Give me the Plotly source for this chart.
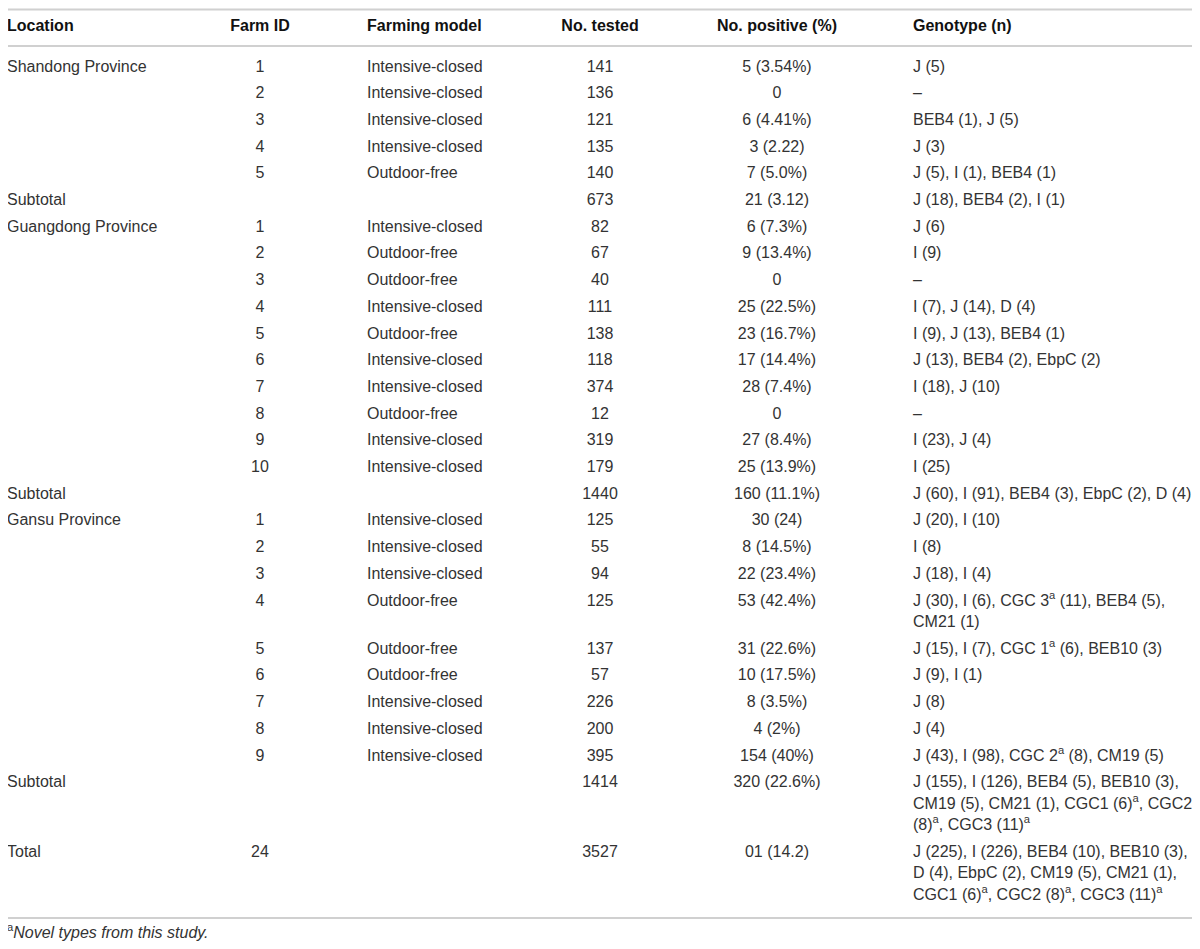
import plotly.graph_objects as go

# ---------------- data ----------------
headers = ["Location", "Farm ID", "Farming model", "No. tested", "No. positive (%)", "Genotype (n)"]

location = ["Shandong Province", "", "", "", "", "Subtotal",
            "Guangdong Province", "", "", "", "", "", "", "", "", "", "Subtotal",
            "Gansu Province", "", "", "", "", "", "", "", "", "Subtotal",
            "Total"]
farm_id = ["1", "2", "3", "4", "5", "",
           "1", "2", "3", "4", "5", "6", "7", "8", "9", "10", "",
           "1", "2", "3", "4", "5", "6", "7", "8", "9", "",
           "24"]
farming_model = ["Intensive-closed", "Intensive-closed", "Intensive-closed", "Intensive-closed", "Outdoor-free", "",
                 "Intensive-closed", "Outdoor-free", "Outdoor-free", "Intensive-closed", "Outdoor-free",
                 "Intensive-closed", "Intensive-closed", "Outdoor-free", "Intensive-closed", "Intensive-closed", "",
                 "Intensive-closed", "Intensive-closed", "Intensive-closed", "Outdoor-free", "Outdoor-free",
                 "Outdoor-free", "Intensive-closed", "Intensive-closed", "Intensive-closed", "",
                 ""]
no_tested = ["141", "136", "121", "135", "140", "673",
             "82", "67", "40", "111", "138", "118", "374", "12", "319", "179", "1440",
             "125", "55", "94", "125", "137", "57", "226", "200", "395", "1414",
             "3527"]
no_positive = ["5 (3.54%)", "0", "6 (4.41%)", "3 (2.22)", "7 (5.0%)", "21 (3.12)",
               "6 (7.3%)", "9 (13.4%)", "0", "25 (22.5%)", "23 (16.7%)", "17 (14.4%)", "28 (7.4%)", "0",
               "27 (8.4%)", "25 (13.9%)", "160 (11.1%)",
               "30 (24)", "8 (14.5%)", "22 (23.4%)", "53 (42.4%)", "31 (22.6%)", "10 (17.5%)", "8 (3.5%)",
               "4 (2%)", "154 (40%)", "320 (22.6%)",
               "01 (14.2)"]
genotype = ["J (5)", "–", "BEB4 (1), J (5)", "J (3)", "J (5), I (1), BEB4 (1)", "J (18), BEB4 (2), I (1)",
            "J (6)", "I (9)", "–", "I (7), J (14), D (4)", "I (9), J (13), BEB4 (1)",
            "J (13), BEB4 (2), EbpC (2)", "I (18), J (10)", "–", "I (23), J (4)", "I (25)",
            "J (60), I (91), BEB4 (3), EbpC (2), D (4)",
            "J (20), I (10)", "I (8)", "J (18), I (4)",
            "J (30), I (6), CGC 3<sup>a</sup> (11), BEB4 (5),<br>CM21 (1)",
            "J (15), I (7), CGC 1<sup>a</sup> (6), BEB10 (3)", "J (9), I (1)", "J (8)", "J (4)",
            "J (43), I (98), CGC 2<sup>a</sup> (8), CM19 (5)",
            "J (155), I (126), BEB4 (5), BEB10 (3),<br>CM19 (5), CM21 (1), CGC1 (6)<sup>a</sup>, CGC2"
            "<br>(8)<sup>a</sup>, CGC3 (11)<sup>a</sup>",
            "J (225), I (226), BEB4 (10), BEB10 (3),<br>D (4), EbpC (2), CM19 (5), CM21 (1),"
            "<br>CGC1 (6)<sup>a</sup>, CGC2 (8)<sup>a</sup>, CGC3 (11)<sup>a</sup>"]
footnote = "<sup>a</sup><i>Novel types from this study.</i>"

# ---------------- layout / style ----------------
W, H = 1200, 949
OFF = 8  # page body margin compensation so axis units equal page pixels
FONT = "Liberation Sans"
FS = 16
BODY = "#333333"
HEAD = "#111111"
RULE = "#d0d0d0"

col_x = [7, 260, 367, 600, 777, 913]
col_anchor = ["middle right", "middle center", "middle right", "middle center", "middle center", "middle right"]

top_rule_y = 9.5
header_y = 27
header_rule_y = 46
first_y = 67.5
row_pitch = 26.7
line_pitch = 21.5

# compute row top-line y positions from the number of lines in each row
row_lines = [g.split("<br>") for g in genotype]
row_y = []
y = first_y
for lines in row_lines:
    row_y.append(y)
    y += (len(lines) - 1) * line_pitch + row_pitch
table_bottom = row_y[-1] + (len(row_lines[-1]) - 1) * line_pitch + 22

columns = [location, farm_id, farming_model, no_tested, no_positive]

fig = go.Figure()

# header
for cx, anc, h in zip(col_x, col_anchor, headers):
    fig.add_trace(go.Scatter(x=[cx], y=[header_y], mode="text", text=[f"<b>{h}</b>"],
                             textposition=anc, textfont=dict(family=FONT, size=FS, color=HEAD),
                             hoverinfo="skip", showlegend=False))

# body columns
for ci, col in enumerate(columns):
    xs, ys, ts = [], [], []
    for ri, v in enumerate(col):
        if v:
            xs.append(col_x[ci]); ys.append(row_y[ri]); ts.append(v)
    fig.add_trace(go.Scatter(x=xs, y=ys, mode="text", text=ts, textposition=col_anchor[ci],
                             textfont=dict(family=FONT, size=FS, color=BODY),
                             hoverinfo="skip", showlegend=False))

# genotype column (multi-line cells split into lines)
xs, ys, ts = [], [], []
for ri, lines in enumerate(row_lines):
    for li, t in enumerate(lines):
        if t:
            xs.append(col_x[5]); ys.append(row_y[ri] + li * line_pitch); ts.append(t)
fig.add_trace(go.Scatter(x=xs, y=ys, mode="text", text=ts, textposition="middle right",
                         textfont=dict(family=FONT, size=FS, color=BODY),
                         hoverinfo="skip", showlegend=False))

# footnote
fig.add_trace(go.Scatter(x=[7], y=[table_bottom + 16], mode="text", text=[footnote],
                         textposition="middle right", textfont=dict(family=FONT, size=FS, color=BODY),
                         hoverinfo="skip", showlegend=False))

# horizontal rules
for yy in [top_rule_y, header_rule_y, table_bottom]:
    fig.add_shape(type="line", x0=0, x1=W + OFF, y0=yy, y1=yy, xref="x", yref="y",
                  line=dict(color=RULE, width=2))

fig.update_layout(
    width=W, height=H, margin=dict(l=0, r=0, t=0, b=0),
    paper_bgcolor="white", plot_bgcolor="white",
    xaxis=dict(range=[OFF, W + OFF], visible=False, fixedrange=True),
    yaxis=dict(range=[H + OFF, OFF], visible=False, fixedrange=True),
    showlegend=False,
)

fig.write_html("out.html", config={"displayModeBar": False})
